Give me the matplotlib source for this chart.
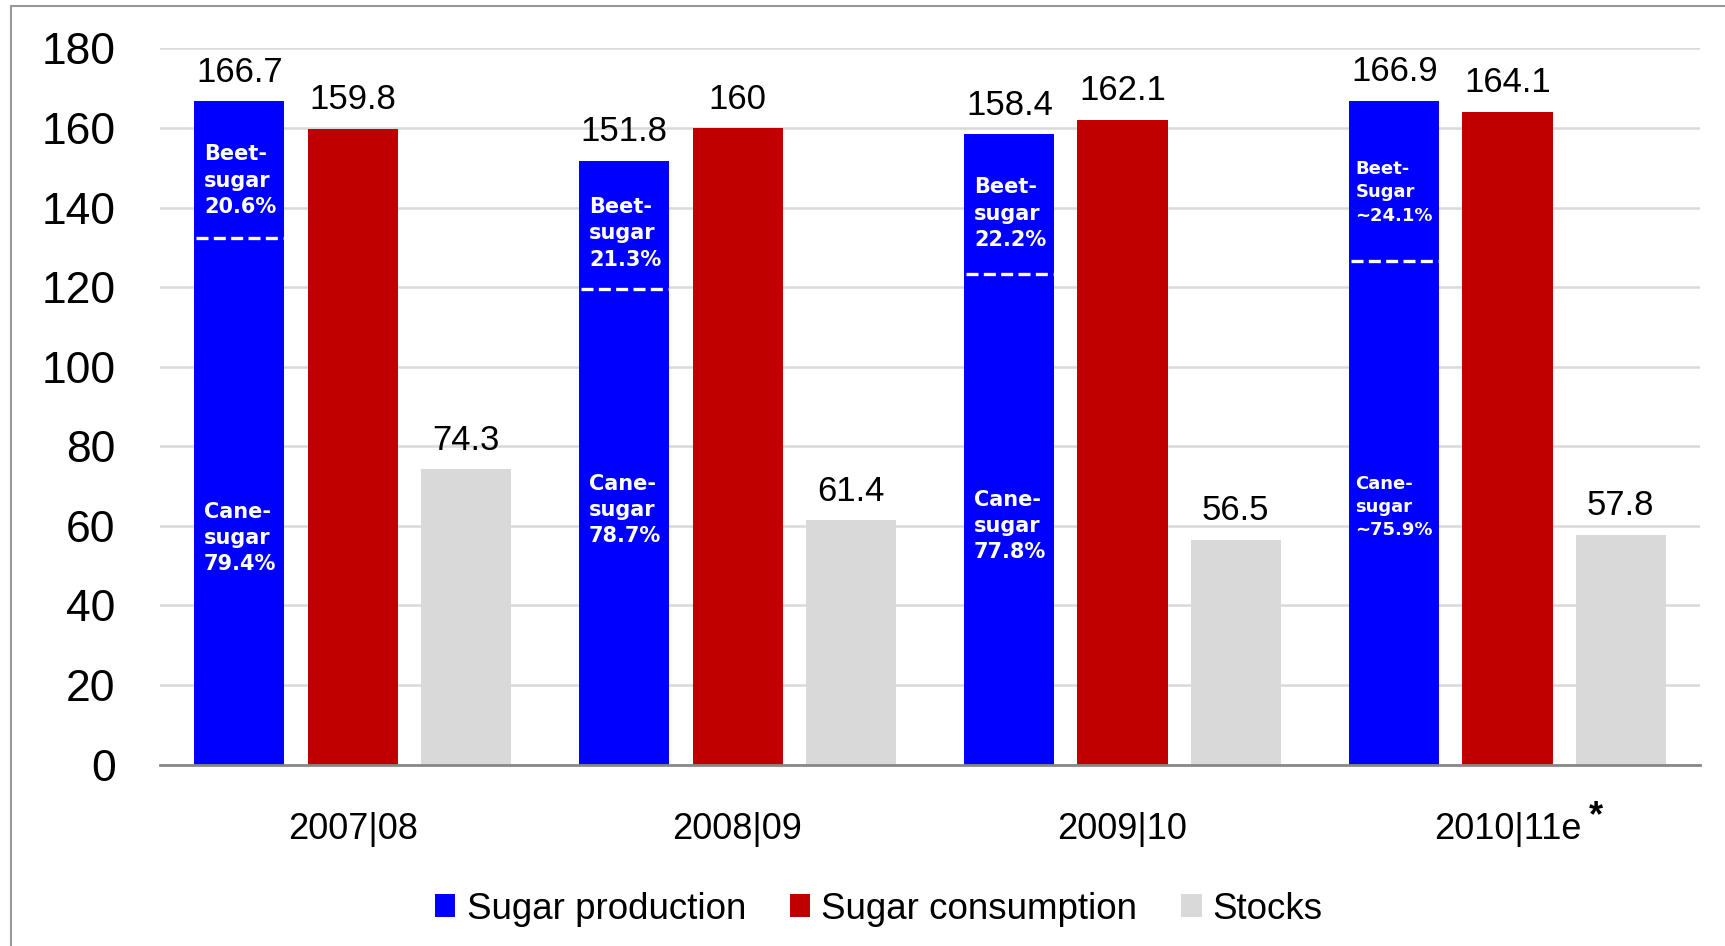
import matplotlib
matplotlib.use("Agg")
import matplotlib.pyplot as plt
from matplotlib.patches import Rectangle
import numpy as np

# Data
seasons = ["2007|08", "2008|09", "2009|10", "2010|11e"]
production = [166.7, 151.8, 158.4, 166.9]
consumption = [159.8, 160.0, 162.1, 164.1]
stocks = [74.3, 61.4, 56.5, 57.8]
beet_share = [20.6, 21.3, 22.2, 24.1]
cane_share = [79.4, 78.7, 77.8, 75.9]
beet_labels = ["Beet-\nsugar\n20.6%", "Beet-\nsugar\n21.3%", "Beet-\nsugar\n22.2%", "Beet-\nSugar\n~24.1%"]
cane_labels = ["Cane-\nsugar\n79.4%", "Cane-\nsugar\n78.7%", "Cane-\nsugar\n77.8%", "Cane-\nsugar\n~75.9%"]
series_names = ["Sugar production", "Sugar consumption", "Stocks"]

colors = ["#0000FF", "#C00000", "#D9D9D9"]
num_font = "Liberation Sans"

plt.rcParams["font.family"] = [num_font, "DejaVu Sans"]

fig = plt.figure(figsize=(17.25, 9.46), dpi=100)
ax = fig.add_axes([0.0928, 0.1917, 0.8927, 0.7571])

x = np.arange(len(seasons))
width = 0.234
step = 0.294

bars_p = ax.bar(x - step, production, width, color=colors[0], label=series_names[0], zorder=3)
bars_c = ax.bar(x, consumption, width, color=colors[1], label=series_names[1], zorder=3)
bars_s = ax.bar(x + step, stocks, width, color=colors[2], label=series_names[2], zorder=3)

# Value labels above bars
for bars, vals in ((bars_p, production), (bars_c, consumption), (bars_s, stocks)):
    for b, v in zip(bars, vals):
        txt = f"{v:g}"
        ax.annotate(txt, (b.get_x() + b.get_width() / 2, v), xytext=(0, 14),
                    textcoords="offset points", ha="center", va="baseline",
                    fontsize=25, color="black", family=num_font, clip_on=False)

# Beet / cane split inside the production bars
beet_y = [146.8, 133.5, 138.5, 143.8]
cane_y = [57.0, 63.9, 60.0, 64.7]
inner_size = [15, 15, 15, 13]
inner_dx = [7, 7, 7, 4.5]
inner_ls = [1.38, 1.38, 1.38, 1.36]
for i, b in enumerate(bars_p):
    split = production[i] * cane_share[i] / 100.0
    x0 = b.get_x()
    ax.plot([x0 + 0.004, x0 + b.get_width() - 0.004], [split, split], color="white",
            lw=2.4, dashes=(3.6, 1.6), zorder=4, solid_capstyle="butt")
    for lab, yy in ((beet_labels[i], beet_y[i]), (cane_labels[i], cane_y[i])):
        ax.annotate(lab, (x0, yy), xytext=(inner_dx[i], 0), textcoords="offset points",
                    ha="left", va="center", color="white", fontsize=inner_size[i],
                    fontweight="bold", family="DejaVu Sans", linespacing=inner_ls[i], zorder=5)

ax.set_xlim(-0.5, 3.5)
ax.set_ylim(0, 180)
ax.set_yticks(np.arange(0, 181, 20))
ax.set_xticks(x)
ax.set_xticklabels(seasons, fontsize=26, family=num_font)
for t in ax.get_yticklabels():
    t.set_fontsize(32)
    t.set_family(num_font)
ax.tick_params(axis="y", length=0, pad=32)
ax.tick_params(axis="x", length=0, pad=34)

ax.annotate("*", (3, 0), xytext=(64, -50), textcoords="offset points", ha="center",
            va="bottom", fontsize=26, fontweight="bold", family=num_font, annotation_clip=False)

ax.grid(axis="y", color="#D9D9D9", lw=1.8, zorder=0)
ax.set_axisbelow(True)
for s in ("top", "right", "left"):
    ax.spines[s].set_visible(False)
ax.spines["bottom"].set_color("#888888")
ax.spines["bottom"].set_linewidth(2)
ax.spines["bottom"].set_zorder(6)

leg = fig.legend(handles=[bars_p, bars_c, bars_s], labels=series_names, loc="center",
                 bbox_to_anchor=(0.5096, 0.039), ncol=3, frameon=False,
                 handlelength=0.55, handleheight=0.55,
                 handletextpad=0.3, columnspacing=1.2, prop={"family": num_font, "size": 26.5})

# Outer frame
fig.patches.append(Rectangle((11 / 1725, -0.05), 1.2, 1.05 - 6 / 946, transform=fig.transFigure,
                             fill=False, edgecolor="#999999", lw=1.5, zorder=10))

fig.savefig("out.png", dpi=100)
